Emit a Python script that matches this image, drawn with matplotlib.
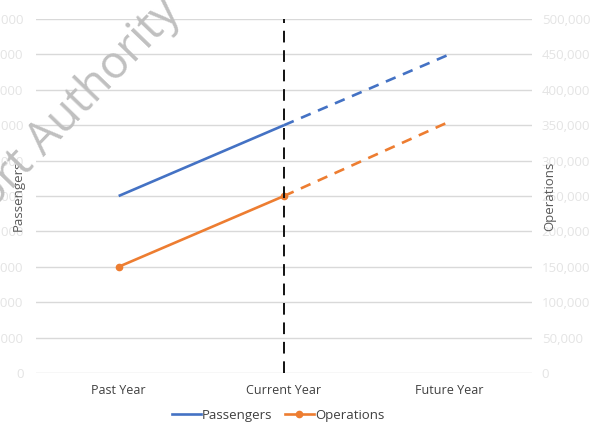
import numpy as np
import matplotlib.pyplot as plt

# valeurs
years = ["Past Year", "Current Year", "Future Year"]
passengers = [250000, 350000, 450000]
operations = [150000, 250000, 355000]
ticks = [0, 50000, 100000, 150000, 200000, 250000, 300000, 350000, 400000, 450000, 500000]
tick_labels = ["{:,}".format(t) for t in ticks]

blue = "#4472C4"
orange = "#ED7D31"

plt.rcParams["font.family"] = ["Open Sans", "DejaVu Sans"]

fig = plt.figure(figsize=(5.98, 4.26), dpi=100)
ax = fig.add_axes([36 / 598, 53 / 426, 496 / 598, 354 / 426])
ax2 = ax.twinx()

x = np.arange(len(years))

ax.set_xlim(-0.5, 2.5)
ax.set_ylim(0, 500000)
ax2.set_ylim(0, 500000)
ax.set_yticks(ticks)
ax.set_yticklabels(tick_labels)
ax2.set_yticks(ticks)
ax2.set_yticklabels(tick_labels)
ax.grid(axis="y", color="#d9d9d9", lw=1)
ax.set_axisbelow(True)

for a in (ax, ax2):
    for s in a.spines.values():
        s.set_visible(False)
    a.tick_params(axis="y", length=0, labelsize=9.5, labelcolor="#e4e4e4")
ax.tick_params(axis="y", pad=9)
ax2.tick_params(axis="y", pad=7)
ax.tick_params(axis="x", length=0, labelsize=9, labelcolor="#404040", pad=8)
ax.set_xticks(x)
ax.set_xticklabels(years)

# passagers : plein jusqu'à l'année courante, pointillé après
ax.plot(x[:2], passengers[:2], color=blue, lw=1.9, solid_capstyle="butt")
ax.plot(x[1:], passengers[1:], color=blue, lw=1.9, ls=(0, (4, 3)))
ax.plot(x[:2], operations[:2], color=orange, lw=1.9, marker="o", ms=4.5)
ax.plot(x[1:], operations[1:], color=orange, lw=1.9, ls=(0, (4, 3)))

ax.axvline(1, color="#111111", lw=1.4, ls=(0, (6, 4)))

ax.set_ylabel("Passengers", color="#595959", fontsize=9.5)
ax.yaxis.set_label_coords(-11 / 496, 0.5)
ax2.set_ylabel("Operations", color="#595959", fontsize=9.5)
ax2.yaxis.set_label_coords(1 + 11 / 496, 0.5)

# filigrane
fig.text(182 / 598, 1 - 14 / 426, "Port Authority", fontsize=33, color="#c0c0c0",
         rotation=46, ha="right", va="baseline", rotation_mode="anchor")

h1, = ax.plot([], [], color=blue, lw=1.9)
h2, = ax.plot([], [], color=orange, lw=1.9, marker="o", ms=4.5)
fig.legend([h1, h2], ["Passengers", "Operations"], loc="lower center",
           bbox_to_anchor=(0.465, -0.018), ncol=2, frameon=False, fontsize=9.5,
           handlelength=2.2, handletextpad=0.1, columnspacing=0.9, labelcolor="#404040")

plt.savefig("out.png", dpi=100)
